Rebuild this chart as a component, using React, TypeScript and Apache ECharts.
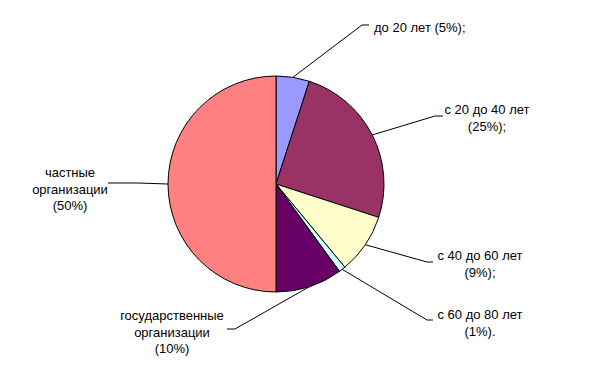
import React, { useEffect, useRef } from "react";
import * as echarts from "echarts";

const categories = [
  "до 20 лет",
  "с 20 до 40 лет",
  "с 40 до 60 лет",
  "с 60 до 80 лет",
  "государственные организации",
  "частные организации",
];
const values = [5, 25, 9, 1, 10, 50];
const labelTexts = [
  "до 20 лет (5%);",
  "с 20 до 40 лет\n(25%);",
  "с 40 до 60 лет\n(9%);",
  "с 60 до 80 лет\n(1%).",
  "государственные\nорганизации\n(10%)",
  "частные\nорганизации\n(50%)",
];
const colors = ["#9999FF", "#993366", "#FFFFCC", "#CCFFFF", "#660066", "#FF8080"];

// label layout (text anchor, elbow and end of leader line), in pixels
const labelLayouts = [
  { x: 374, y: 27, align: "left", elbow: [362, 25], end: [369, 25] },
  { x: 487, y: 118, align: "center", elbow: [435, 116], end: [443, 116] },
  { x: 480, y: 264, align: "center", elbow: [427, 262], end: [433, 262] },
  { x: 480, y: 323, align: "center", elbow: [427, 320], end: [433, 320] },
  { x: 172, y: 332, align: "center", elbow: [235, 329], end: [227, 329] },
  { x: 70, y: 189, align: "center", elbow: [138, 183], end: [108, 183] },
];

export default function App() {
  const ref = useRef<HTMLDivElement>(null);
  useEffect(() => {
    if (!ref.current) return;
    const chart = echarts.init(ref.current, undefined, { renderer: "svg" });
    chart.setOption({
      animation: false,
      backgroundColor: "#ffffff",
      series: [
        {
          type: "pie",
          center: [276, 184],
          radius: 108,
          startAngle: 90,
          clockwise: true,
          avoidLabelOverlap: false,
          data: categories.map((name, i) => ({
            name,
            value: values[i],
            itemStyle: { color: colors[i] },
          })),
          itemStyle: { borderColor: "#000000", borderWidth: 1 },
          emphasis: { disabled: true },
          label: {
            show: true,
            position: "outside",
            formatter: (p: any) => labelTexts[p.dataIndex],
            color: "#000000",
            fontFamily: "'Liberation Sans', Arial, sans-serif",
            fontSize: 13,
            lineHeight: 16.5,
            align: "center",
          },
          labelLine: {
            show: true,
            length: 20,
            length2: 10,
            lineStyle: { color: "#000000", width: 1 },
          },
          labelLayout: (params: any) => {
            const i = params.dataIndex;
            const L = labelLayouts[i];
            const p0 = params.labelLinePoints ? params.labelLinePoints[0] : L.elbow;
            return {
              x: L.x,
              y: L.y,
              align: L.align,
              verticalAlign: "middle",
              labelLinePoints: [p0, L.elbow, L.end],
            };
          },
        },
      ],
    });
    return () => chart.dispose();
  }, []);
  return (
    <div
      ref={ref}
      style={{ position: "absolute", left: 0, top: 0, width: 591, height: 385 }}
    />
  );
}
